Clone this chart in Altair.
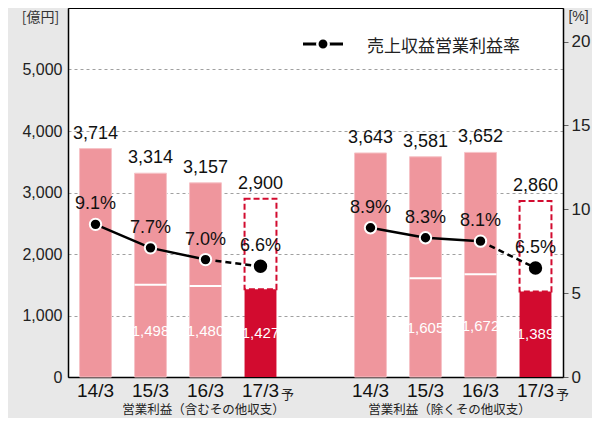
import altair as alt
import pandas as pd

# ---------------- data ----------------
periods = ["14/3", "15/3", "16/3", "17/3"]
group_names = ["営業利益（含むその他収支）", "営業利益（除くその他収支）"]
group_codes = ["A", "B"]
total_incl = [3714, 3314, 3157, 2900]
part_incl = [None, 1498, 1480, 1427]
rate_incl = [9.1, 7.7, 7.0, 6.6]
total_excl = [3643, 3581, 3652, 2860]
part_excl = [None, 1605, 1672, 1389]
rate_excl = [8.9, 8.3, 8.1, 6.5]
is_forecast = [False, False, False, True]
left_ticks = [0, 1000, 2000, 3000, 4000, 5000]
right_ticks = [0, 5, 10, 15, 20]
legend_label = "売上収益営業利益率"
forecast_mark = "予"

PINK = "#ef969d"
RED = "#d20b2f"
NUM_FONT = "Liberation Sans, Arial, sans-serif"
REG_FONT = "Liberation Sans, Arial, sans-serif"
JP_FONT = "Noto Sans CJK JP, sans-serif"

rows = []
for code, gname, totals, parts, rates in [
    (group_codes[0], group_names[0], total_incl, part_incl, rate_incl),
    (group_codes[1], group_names[1], total_excl, part_excl, rate_excl),
]:
    for p, t, pt, r, f in zip(periods, totals, parts, rates, is_forecast):
        rows.append(dict(
            key=code + p, group=gname, period=p, total=t, part=pt, rate=r,
            forecast=f, total_label=f"{t:,}",
            part_label=(f"{pt:,}" if pt else ""),
            half=(pt / 2 if pt else None),
            rate_label=f"{r:.1f}%",
        ))
df = pd.DataFrame(rows)

slots = [group_codes[0] + p for p in periods] + ["gap"] + [group_codes[1] + p for p in periods]

W, H = 495, 369

x_enc = alt.X(
    "key:N",
    sort=slots,
    scale=alt.Scale(domain=slots, paddingInner=0.42, paddingOuter=0.21),
    axis=alt.Axis(
        title=None,
        labelExpr="datum.value == 'gap' ? '' : slice(datum.value, 1)",
        labelFont=REG_FONT, labelFontSize=19, labelColor="#111",
        labelBaseline="middle", labelPadding=13, labelAngle=0,
        ticks=False, tickSize=0, domain=True, domainColor="black", domainWidth=1.5,
    ),
)

left_axis = alt.Axis(
    values=left_ticks, format=",.0f", grid=True, gridDash=[3, 3], gridColor="#a0a0a0",
    gridWidth=1, ticks=False, tickSize=0, domain=True, domainColor="black", domainWidth=1.5,
    labelFont=NUM_FONT, labelFontSize=16, labelColor="#222", labelPadding=6,
    title="[億円]", titleAngle=0, titleX=-28, titleY=9, titleAlign="center",
    titleBaseline="middle", titleFont=JP_FONT, titleFontSize=14,
    titleFontWeight="normal", titleColor="#333",
)
left_scale = alt.Scale(domain=[0, 6000], nice=False)

right_axis = alt.Axis(
    orient="right", values=right_ticks, grid=False, ticks=True, tickSize=5,
    tickColor="#666", domain=True, domainColor="black", domainWidth=1.5,
    labelFont=NUM_FONT, labelFontSize=17, labelColor="#222", labelPadding=3,
    title="[%]", titleAngle=0, titleX=15, titleY=8, titleAlign="center",
    titleBaseline="middle", titleFont=REG_FONT, titleFontSize=14,
    titleFontWeight="normal", titleColor="#333",
)
right_scale = alt.Scale(domain=[0, 22], nice=False)

def yl(field):
    return alt.Y(f"{field}:Q", scale=left_scale, axis=left_axis)

def yr(field):
    return alt.Y(f"{field}:Q", scale=right_scale, axis=right_axis)

base = alt.Chart(df)

bars_actual = base.transform_filter("!datum.forecast").mark_bar(
    color=PINK, stroke="#f6c3c7", strokeWidth=1
).encode(x=x_enc, y=yl("total"))

dividers = base.transform_filter("!datum.forecast && isValid(datum.part)").mark_tick(
    color="white", size=32, thickness=2, opacity=1
).encode(x=x_enc, y=yl("part"))

bars_forecast = base.transform_filter("datum.forecast").mark_bar(
    color=RED
).encode(x=x_enc, y=yl("part"))

outline_forecast = base.transform_filter("datum.forecast").mark_bar(
    fill="white", stroke=RED, strokeWidth=2, strokeDash=[6, 3]
).encode(x=x_enc, y=yl("part"), y2="total:Q")

top_labels = base.mark_text(
    font=NUM_FONT, fontSize=18, color="#111", baseline="alphabetic", dy=-10
).encode(x=x_enc, y=yl("total"), text="total_label:N")

inner_labels = base.transform_filter("isValid(datum.part)").mark_text(
    font=NUM_FONT, fontSize=15, color="white", baseline="middle"
).encode(x=x_enc, y=yl("half"), text="part_label:N")

group_df = pd.DataFrame({"key": [group_codes[0] + periods[2], group_codes[1] + periods[1]],
                         "name": group_names})
group_label_a = alt.Chart(group_df).transform_filter(alt.datum.key == group_codes[0] + periods[2]).mark_text(
    font=JP_FONT, fontSize=12.5, color="#222", baseline="middle", dx=-2
).encode(x=x_enc, y=alt.value(H + 33), text="name:N")
group_label_b = alt.Chart(group_df).transform_filter(alt.datum.key == group_codes[1] + periods[1]).mark_text(
    font=JP_FONT, fontSize=12.5, color="#222", baseline="middle", dx=24
).encode(x=x_enc, y=alt.value(H + 33), text="name:N")

yo_df = pd.DataFrame({"key": [c + periods[3] for c in group_codes], "t": [forecast_mark] * 2})
yo_labels = alt.Chart(yo_df).mark_text(
    font=JP_FONT, fontSize=13, color="#222", baseline="middle", dx=27
).encode(x=x_enc, y=alt.value(H + 18), text="t:N")

leg_df = pd.DataFrame({"t": [legend_label]})
leg_rule = alt.Chart(leg_df).mark_rule(color="black", strokeWidth=3).encode(
    x=alt.value(235), x2=alt.value(275), y=alt.value(36))
leg_point = alt.Chart(leg_df).mark_point(
    filled=True, shape="circle", size=130, fill="black", stroke="white", strokeWidth=2.5, opacity=1
).encode(x=alt.value(255), y=alt.value(36))
leg_text = alt.Chart(leg_df).mark_text(
    font=JP_FONT, fontSize=17, color="#222", align="left", baseline="middle"
).encode(x=alt.value(299), y=alt.value(39), text="t:N")

left = alt.layer(bars_actual, dividers, outline_forecast, bars_forecast, top_labels,
                 inner_labels, group_label_a, group_label_b, yo_labels,
                 leg_rule, leg_point, leg_text)

line_solid = base.transform_filter("!datum.forecast").mark_line(
    color="black", strokeWidth=2.5
).encode(x=x_enc, y=yr("rate"), detail="group:N")

line_dash = base.transform_filter(
    alt.FieldOneOfPredicate(field="period", oneOf=periods[2:])
).mark_line(color="black", strokeWidth=2.5, strokeDash=[6, 4]).encode(
    x=x_enc, y=yr("rate"), detail="group:N")

points = base.mark_point(
    filled=True, shape="circle", size=130, fill="black", strokeWidth=2, opacity=1
).encode(
    x=x_enc, y=yr("rate"),
    stroke=alt.condition("datum.forecast", alt.value("black"), alt.value("white")),
)

rate_labels = base.mark_text(
    font=NUM_FONT, fontSize=18, color="#111", baseline="middle", dy=-20
).encode(x=x_enc, y=yr("rate"), text="rate_label:N")

right = alt.layer(line_solid, line_dash, points, rate_labels)

chart = alt.layer(left, right).resolve_scale(y="independent").properties(
    width=W, height=H,
    autosize=alt.AutoSizeParams(type="none"),
    padding={"left": 60, "top": 0, "right": 29, "bottom": 41},
    background="#e8e8e8",
).configure_view(stroke="black", strokeWidth=1, fill="white")

chart.save("out.html", embed_options={"renderer": "svg", "actions": False})
